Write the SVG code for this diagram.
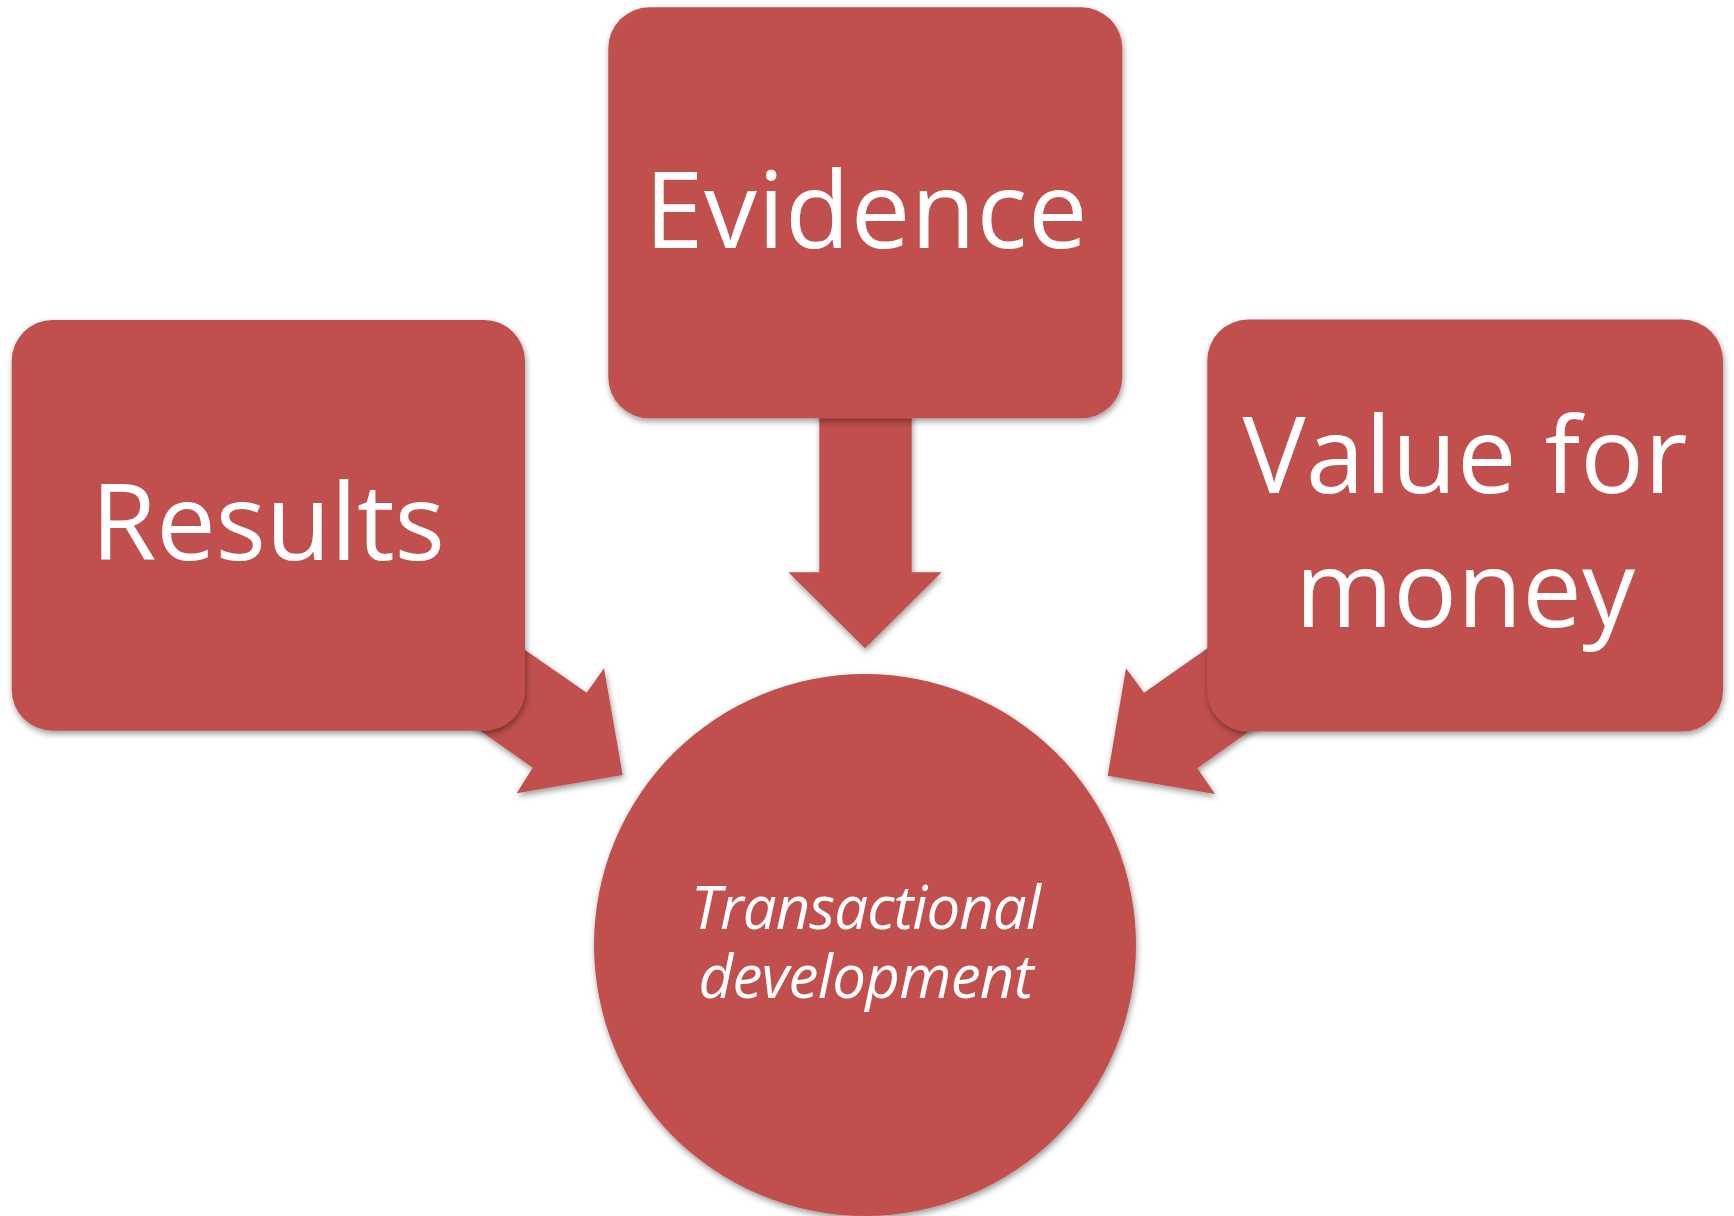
<svg xmlns="http://www.w3.org/2000/svg" width="1734" height="1216" viewBox="0 0 1734 1216">
  <defs>
    <filter id="sh" x="-10%" y="-10%" width="120%" height="125%">
      <feDropShadow dx="1" dy="3" stdDeviation="3" flood-color="#000" flood-opacity="0.4"/>
    </filter>
  </defs>
  <style>
    .fill { fill: #C0504D; }
    .big { font-family: "Open Sans", "Noto Sans", sans-serif; font-size: 106px; fill: #fff; text-anchor: middle; }
    .ital { font-family: "Open Sans", "Noto Sans", sans-serif; font-size: 60px; font-style: italic; fill: #fff; text-anchor: middle; }
  </style>
  <rect width="1734" height="1216" fill="#fff"/>
  <g id="connectors">
    <polygon class="fill" filter="url(#sh)" points="819.3,410 911.7,410 911.7,572.3 941.7,572.3 865,648.3 788.3,572.3 819.3,572.3"/>
    <polygon class="fill" filter="url(#sh)" points="515,643 586.7,692.7 604,668.3 622.7,775 516.7,793.3 532.7,767.7 472,725"/>
    <polygon class="fill" filter="url(#sh)" points="1215,643 1144,692.7 1126,668.3 1107.7,775.7 1215,794 1197.3,768.3 1258,725"/>
  </g>
  <g id="node-evidence">
    <rect class="fill" filter="url(#sh)" x="608.3" y="7.3" width="514" height="411" rx="41" ry="41"/>
    <text class="big" x="866" y="247.7" textLength="443" lengthAdjust="spacing">Evidence</text>
  </g>
  <g id="node-results">
    <rect class="fill" filter="url(#sh)" x="11.7" y="320" width="513.3" height="410.7" rx="41" ry="41"/>
    <text class="big" x="268" y="559.6" textLength="354" lengthAdjust="spacing">Results</text>
  </g>
  <g id="node-value">
    <rect class="fill" filter="url(#sh)" x="1207.3" y="319.6" width="515.7" height="412" rx="41" ry="41"/>
    <text class="big" x="1465" y="493.2" textLength="445" lengthAdjust="spacing">Value for</text>
    <text class="big" x="1465" y="627" textLength="340" lengthAdjust="spacing">money</text>
  </g>
  <g id="node-transactional">
    <circle class="fill" filter="url(#sh)" cx="865" cy="945" r="271"/>
    <text class="ital" x="866" y="929" textLength="350" lengthAdjust="spacing">Transactional</text>
    <text class="ital" x="866" y="998.3" textLength="335" lengthAdjust="spacing">development</text>
  </g>
</svg>
